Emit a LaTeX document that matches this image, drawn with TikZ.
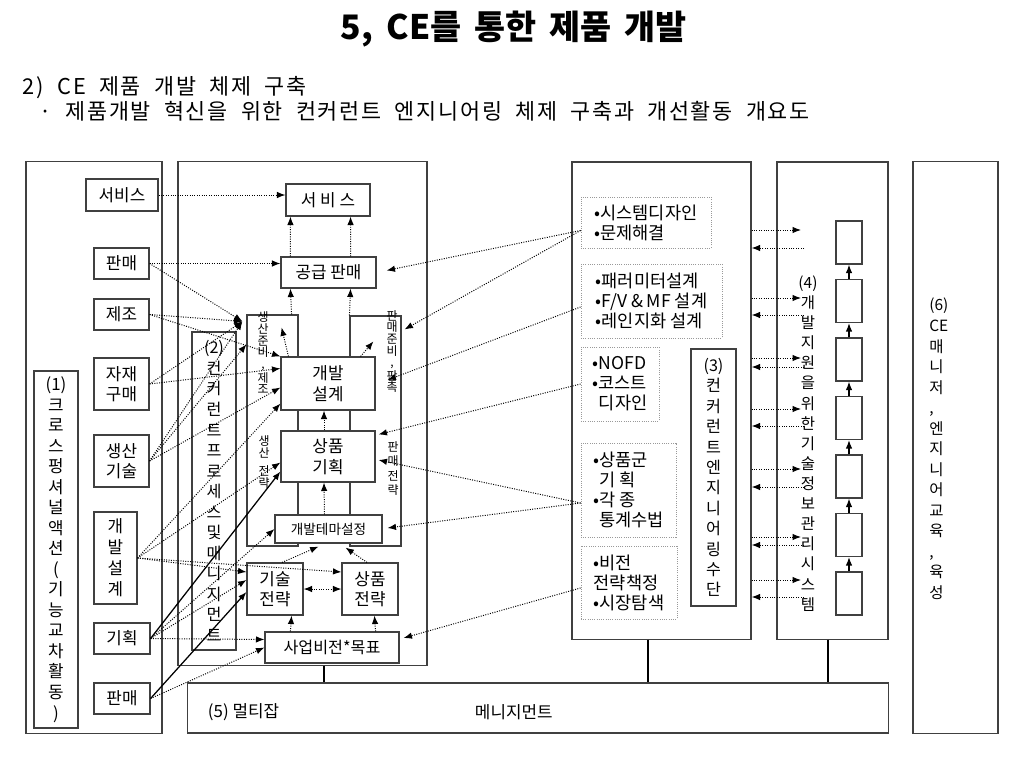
\documentclass[tikz,border=0pt]{standalone}
\usepackage{fontspec}
\setmainfont{Noto Sans CJK KR}
\newfontfamily\headfont{Noto Sans CJK KR}[WordSpace=2, LetterSpace=8]
\newfontfamily\titlefont{Noto Sans CJK KR}[WordSpace=1.7]
\usetikzlibrary{arrows.meta,calc}
\newcommand{\setfs}[2]{\fontsize{#1}{#2}\selectfont}

\tikzset{
  box/.style={draw=black!75, line width=0.8pt, fill=white, inner sep=0pt, align=center, font=\setfs{12}{14.5}},
  panel/.style={draw=black!75, line width=0.8pt, inner sep=0pt},
  dotbox/.style={draw=black!40, densely dotted, line width=0.6pt, inner sep=0pt, align=left, font=\setfs{12.5}{14.2}},
  vlabel/.style={align=center, inner sep=0pt, font=\setfs{12}{14.6}},
  smalllabel/.style={align=center, inner sep=0pt, font=\setfs{8.5}{8.3}},
  tip/.style={-{Latex[length=6pt,width=4.6pt]}},
  link/.style={tip, densely dotted, line width=0.7pt},
  solidlink/.style={tip, line width=0.9pt},
  twolink/.style={{Latex[length=6pt,width=4.6pt]}-{Latex[length=6pt,width=4.6pt]}, densely dotted, line width=0.7pt},
}

\begin{document}
\begin{tikzpicture}[x=0.025cm, y=-0.025cm]
\useasboundingbox (0,0) rectangle (1024,768);

% heading
\node[font=\titlefont\bfseries\setfs{24}{28}] (title) at (514,29) {5, CE를 통한 제품 개발};
\node[anchor=west, font=\headfont\setfs{15.5}{18}] (sub) at (18,88) {2) CE 제품 개발 체제 구축};
\node[anchor=west, font=\headfont\setfs{15.5}{18}] (desc) at (35,111) {· 제품개발 혁신을 위한 컨커런트 엔지니어링 체제 구축과 개선활동 개요도};

% frames
\node[panel, minimum width=3.4cm, minimum height=14.275cm] (lpanel) at (94,447.5) {};
\node[panel, minimum width=6.225cm, minimum height=12.575cm] (cpanel) at (302.5,413.5) {};
\node[panel, minimum width=4.475cm, minimum height=11.925cm] (mpanel) at (661.5,400.5) {};
\node[panel, minimum width=2.775cm, minimum height=11.925cm] (rpanel) at (832.5,400.5) {};
\node[panel, minimum width=2.125cm, minimum height=14.275cm] (mgr) at (955.5,447.5) {};
\node[panel, minimum width=17.5cm, minimum height=1.25cm] (multi) at (538,708) {};

% (1) functional areas
\node[box, vlabel, minimum width=1.1cm, minimum height=8.925cm] (cross) at (56,549.5)
  {(1)\\크\\로\\스\\펑\\셔\\널\\액\\션\\(\\기\\능\\교\\차\\활\\동\\)};
\node[box, minimum width=1.8cm, minimum height=0.8cm] (lsvc) at (122,195) {서비스};
\node[box, minimum width=1.375cm, minimum height=0.775cm] (lsale) at (121.5,263.5) {판매};
\node[box, minimum width=1.375cm, minimum height=0.775cm] (lmfg) at (121.5,314.5) {제조};
\node[box, minimum width=1.375cm, minimum height=1.3cm] (lbuy) at (121.5,384) {자재\\구매};
\node[box, minimum width=1.375cm, minimum height=1.3cm] (ltech) at (121.5,461) {생산\\기술};
\node[box, minimum width=1.075cm, minimum height=2.3cm, font=\setfs{12}{15}] (ldev) at (115.5,558) {개\\발\\설\\계};
\node[box, minimum width=1.4cm, minimum height=0.775cm] (lplan) at (122,638.5) {기획};
\node[box, minimum width=1.4cm, minimum height=0.775cm] (lsale2) at (122,698.5) {판매};

% (2) process
\node[box, vlabel, font=\setfs{11.5}{14.6}, minimum width=1.1cm, minimum height=7.95cm] (cebox) at (214,491)
  {(2)\\컨\\커\\런\\트\\프\\로\\세\\스\\및\\매\\니\\지\\먼\\트};
\node[box, minimum width=1.275cm, minimum height=5.775cm] (prodprep) at (272.5,430.5) {};
\node[box, minimum width=1.275cm, minimum height=5.75cm] (saleprep) at (375.5,431) {};
\node[smalllabel] (prodpreplbl) at (263,353) {생\\산\\준\\비\\,\\제\\조};
\node[smalllabel] (saleprepl) at (392,351.5) {판\\매\\준\\비\\,\\판\\촉};
\node[smalllabel] (prodstrl) at (264,462) {생\\산\\[5pt]전\\략};
\node[smalllabel, font=\setfs{8.5}{10}] (salestrl) at (393,468.5) {판\\매\\전\\략};
\node[box, minimum width=2.1cm, minimum height=0.8cm] (csvc) at (328,200) {서 비 스};
\node[box, minimum width=2.375cm, minimum height=0.775cm] (supply) at (328.5,272.5) {공급 판매};
\node[box, minimum width=2.35cm, minimum height=1.325cm] (cdev) at (328,383.5) {개발\\설계};
\node[box, minimum width=2.35cm, minimum height=1.275cm] (cplan) at (328,456.5) {상품\\기획};
\node[box, minimum width=2.675cm, minimum height=0.7cm, font=\setfs{9.7}{11}] (theme) at (328.5,529) {개발테마설정};
\node[box, minimum width=1.4cm, minimum height=1.3cm] (techstr) at (275,589) {기술\\전략};
\node[box, minimum width=1.4cm, minimum height=1.3cm] (prodstr) at (370,589) {상품\\전략};
\node[box, minimum width=3.35cm, minimum height=0.775cm, font=\setfs{11.5}{14}] (vision) at (332,647.5) {사업비전*목표};
\coordinate (pd) at ($(prodprep.north west)+(-4,7)$);

% (3) means
\node[dotbox, minimum width=3.25cm, minimum height=1.275cm] (db1) at (646,222.5) {•시스템디자인\\•문제해결};
\node[dotbox, minimum width=3.525cm, minimum height=1.85cm] (db2) at (651.5,301) {•패러미터설계\\•F/V \& MF 설계\\•레인지화 설계};
\node[dotbox, minimum width=1.95cm, minimum height=1.85cm] (db3) at (620,384) {•NOFD\\•코스트\\\hspace*{0.35em}디자인};
\node[dotbox, minimum width=2.375cm, minimum height=2.35cm] (db4) at (628.5,490) {•상품군\\\hspace*{0.35em}기 획\\•각 종\\\hspace*{0.35em}통계수법};
\node[dotbox, minimum width=2.4cm, minimum height=1.825cm] (db5) at (629,582.5) {•비전\\전략책정\\•시장탐색};
\node[box, vlabel, font=\setfs{11.5}{14.5}, minimum width=1.125cm, minimum height=6.425cm] (cemeans) at (713.5,477.5)
  {(3)\\컨\\커\\런\\트\\엔\\지\\니\\어\\링\\수\\단};

% (4) information system
\node[vlabel, font=\setfs{11}{14.3}] (rlabel) at (808,443.5)
  {(4)\\개\\발\\지\\원\\을\\위\\한\\기\\술\\정\\보\\관\\리\\시\\스\\템};
\foreach \i in {1,...,7}
  \node[box, minimum width=0.65cm, minimum height=1.075cm] (chain\i) at (849,{242.5+58.5*(\i-1)}) {};
\foreach \i/\j in {1/2,2/3,3/4,4/5,5/6,6/7}
  \draw[solidlink] (chain\j.north) -- (chain\i.south);

% (6) and (5)
\node[vlabel, align=left, anchor=north west, font=\setfs{11}{14.6}] (mlabel) at (929,298)
  {(6)\\CE\\매\\니\\저\\,\\엔\\지\\니\\어\\교\\육\\,\\육\\성};
\node[anchor=west, font=\setfs{12}{14}] (multia) at (203,712) {(5) 멀티잡};
\node[anchor=west, font=\setfs{12}{14}] (multib) at (470,712) {메니지먼트};
\coordinate (cfoot) at ($(cpanel.south)+(21.5,0)$);
\coordinate (mfoot) at ($(mpanel.south)+(-13.5,0)$);
\coordinate (rfoot) at ($(rpanel.south)+(-4.5,0)$);
\draw[line width=0.8pt] (cfoot) -- (cfoot |- multi.north);
\draw[line width=0.8pt] (mfoot) -- (mfoot |- multi.north);
\draw[line width=0.8pt] (rfoot) -- (rfoot |- multi.north);

% left column into the center
\draw[link] (lsvc.east) -- (lsvc.east -| csvc.west);
\draw[link] (lsale.east) -- (lsale.east -| supply.west);
\draw[link] (lsale.east) -- (pd);
\draw[link] (lmfg.east) -- (pd);
\draw[link] (lmfg.east) -- (cdev.north west);
\draw[link] (lbuy.east) -- (pd);
\draw[link] (lbuy.east) -- ($(cdev.west)+(0,-15)$);
\draw[link] (ltech.east) -- (pd);
\draw[link] (ltech.east) -- ($(prodprep.north west)+(0,30)$);
\draw[link] (ltech.east) -- ($(cdev.west)+(0,4)$);
\draw[link] (ldev.east) -- ($(cdev.south west)+(0,-7)$);
\draw[link] (ldev.east) -- ($(cplan.west)+(0,6)$);
\draw[link] (ldev.east) -- ($(techstr.west)+(0,-17)$);
\draw[link] (ldev.east) -- ($(prodstr.west)+(0,-17)$);
\draw[solidlink] (lplan.east) -- ($(cplan.west)+(0,15)$);
\draw[link] (lplan.east) -- (theme.west);
\draw[link] (lplan.east) -- ($(techstr.west)+(0,-9)$);
\draw[link] (lplan.east) -- ($(vision.west)+(0,-8)$);
\draw[solidlink] (lsale2.east) -- ($(techstr.west)+(0,3)$);
\draw[link] (lsale2.east) -- (vision.west);

% inside the center
\draw[link] ($(supply.north west)+(10,0)$) -- ($(csvc.south west)+(5,0)$);
\draw[link] ($(supply.north east)+(-26,0)$) -- ($(csvc.south east)+(-20,0)$);
\draw[link] ($(prodprep.north east)+(-7,0)$) -- ($(supply.south west)+(10,0)$);
\draw[link] (saleprep.north west) -- ($(supply.south east)+(-26,0)$);
\draw[link] ($(cdev.north west)+(8,0)$) -- ($(prodprep.north east)+(-17,13)$);
\draw[link] ($(cdev.north east)+(-15,0)$) -- ($(saleprep.north west)+(24,26)$);
\draw[link] ($(cplan.north)+(-4,0)$) -- ($(cdev.south)+(-4,0)$);
\draw[link] ($(theme.north)+(-4,0)$) -- ($(cplan.south)+(-4,0)$);
\draw[link] ($(techstr.north)+(7,0)$) -- ($(theme.south)+(-10,3)$);
\draw[link] ($(prodstr.north)+(-3,0)$) -- ($(theme.south)+(17,4)$);
\draw[twolink] (techstr.east) -- (prodstr.west);
\draw[link] ($(vision.north west)+(26,0)$) -- ($(techstr.south east)+(-12,0)$);
\draw[link] ($(vision.north east)+(-24,0)$) -- ($(prodstr.south west)+(33,0)$);

% means into the center
\draw[link] ($(db1.west)+(0,8)$) -- ($(supply.east)+(10,-2)$);
\draw[link] ($(db1.west)+(0,8)$) -- ($(saleprep.north east)+(3,14)$);
\draw[link] ($(db2.west)+(0,6)$) -- ($(saleprep.center)+(12,-51)$);
\draw[link] (db3.west) -- ($(cplan.north east)+(3,4)$);
\draw[link] ($(db4.west)+(0,13)$) -- ($(cplan.east)+(3,3.5)$);
\draw[link] ($(db4.west)+(0,13)$) -- ($(theme.east)+(5,-1)$);
\draw[link] ($(db5.west)+(0,5.5)$) -- ($(vision.east)+(4,-9.5)$);

% means <-> information system
\foreach \a/\b [count=\k] in {230/248,298/315,358/367,409/426,469/487,537/545,580/597} {
  \coordinate (go\k) at (801,\a);
  \coordinate (back\k) at (804,\b);
  \draw[link] (mpanel.east |- go\k) -- (go\k);
  \draw[link] (back\k) -- (mpanel.east |- back\k);
}
\end{tikzpicture}
\end{document}
